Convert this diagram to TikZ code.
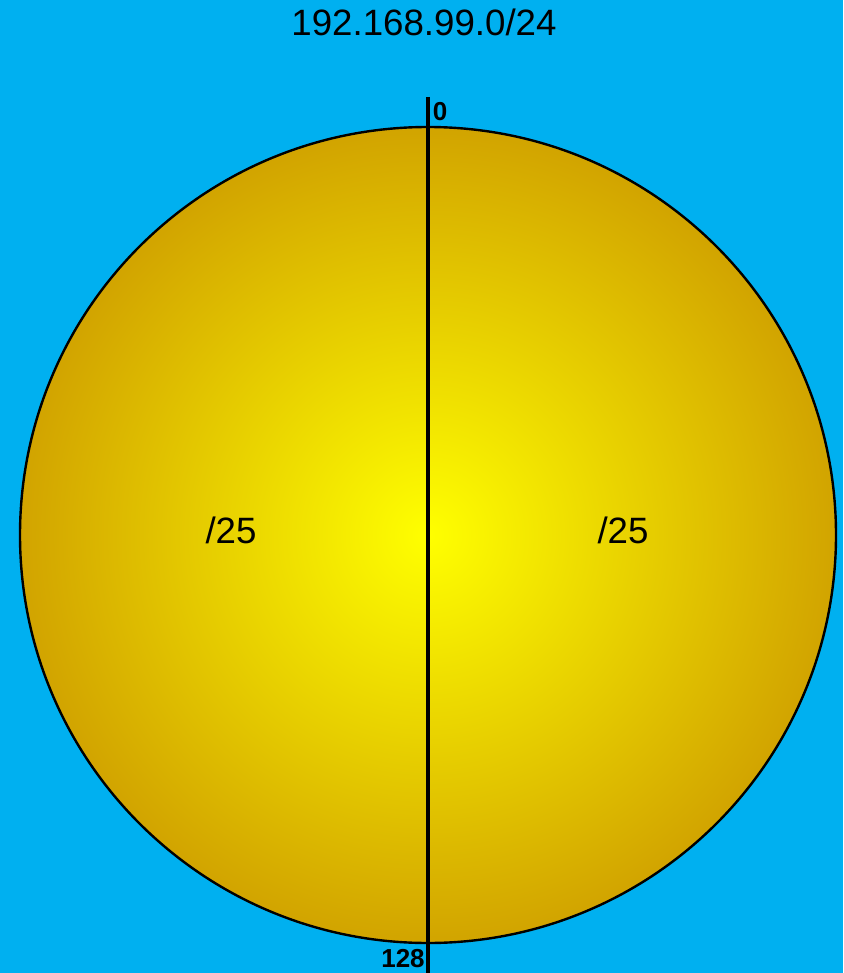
\documentclass[tikz,border=0pt]{standalone}
\usepackage{fontspec}
\setmainfont{Liberation Sans}
\usetikzlibrary{positioning}
\definecolor{netblue}{HTML}{00B0F0}
\definecolor{subgold}{HTML}{CC9900}
\pgfdeclareradialshading{subnetglow}{\pgfpoint{0bp}{0bp}}{color(0bp)=(yellow); color(28bp)=(subgold); color(50bp)=(subgold)}
\tikzset{
    subnet/.style = {circle, draw=black, line width=1.8pt, shading=subnetglow, minimum size=612pt, inner sep=0pt},
    nettitle/.style = {font=\fontsize{27.5}{32}\selectfont},
    masklabel/.style = {font=\fontsize{27.5}{32}\selectfont},
    addr/.style = {font=\fontsize{19.5}{23}\selectfont\bfseries, inner sep=0pt},
    divider/.style = {line width=3.3pt}
}
\begin{document}
\begin{tikzpicture}[x=0.75pt, y=-0.75pt]
\fill[netblue] (0,0) rectangle (843,973);
\useasboundingbox (0,0) rectangle (843,973);

\node (net) [nettitle] at (424,22) {192.168.99.0/24};
\node (ring) [subnet] at (428,535) {};
\node (lower) [masklabel] at (231,530) {/25};
\node (upper) [masklabel] at (623,530) {/25};

\coordinate (top) at (428,97);
\coordinate (bottom) at (428,973);
\draw [divider] (top) -- (bottom);

\node (zero) [addr] at (440,112) {0};
\node (half) [addr] at (403,959) {128};
\end{tikzpicture}
\end{document}
